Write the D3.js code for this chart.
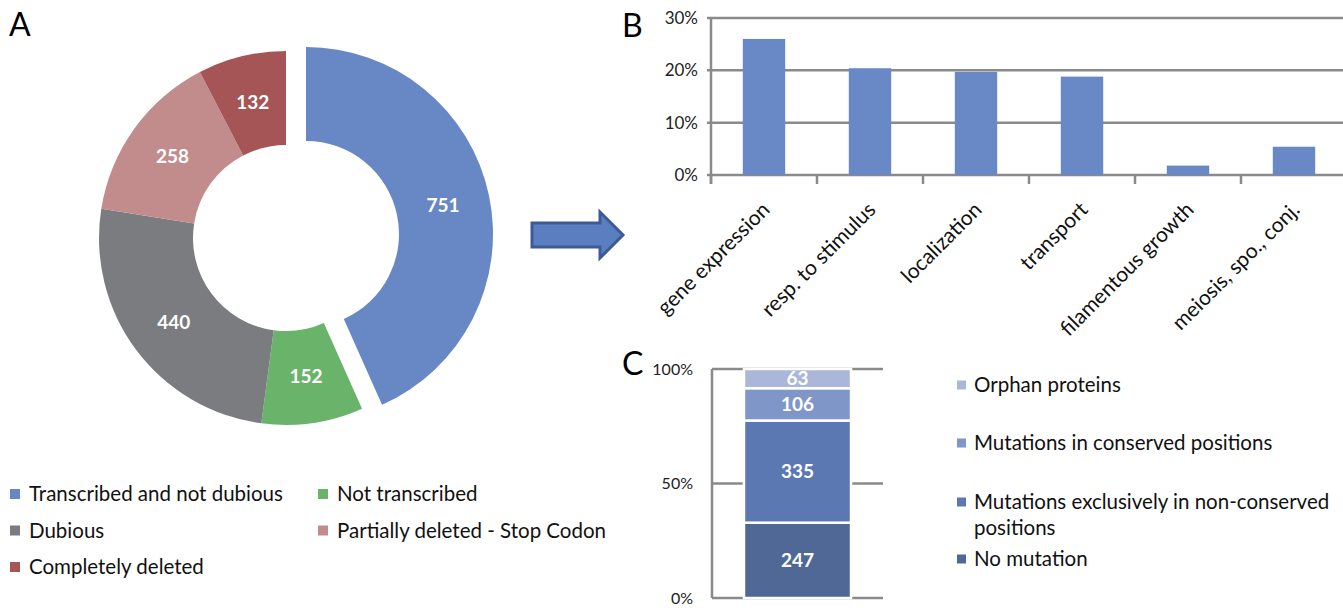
<!DOCTYPE html>
<html>
<head>
<meta charset="utf-8">
<script src="https://cdn.jsdelivr.net/npm/d3@7"></script>
<style>
  body { margin: 0; background: #fff; }
  svg { font-family: Lato, "Open Sans", sans-serif; }
  .panel-letter { font-size: 32px; fill: #000; }
  .legend text { font-size: 20.5px; fill: #111; }
  .tick-label { font-size: 17px; fill: #222; }
  .cat-label { font-size: 21px; fill: #111; }
  .val-label { font-size: 19px; font-weight: bold; fill: #fff; }
</style>
</head>
<body>
<div id="chart"></div>
<script>
// panel A - donut
var donutLabels = ["Transcribed and not dubious", "Not transcribed", "Dubious",
  "Partially deleted - Stop Codon", "Completely deleted"];
var donutValues = [751, 152, 440, 258, 132];
var donutColors = ["#6788c5", "#69b36b", "#7b7c80", "#c38c8c", "#a65556"];

// panel B - GO categories
var goCategories = ["gene expression", "resp. to stimulus", "localization",
  "transport", "filamentous growth", "meiosis, spo., conj."];
var goValues = [0.26, 0.204, 0.197, 0.188, 0.018, 0.054];
var goTicks = [0, 0.1, 0.2, 0.3];

// panel C - stacked bar (bottom to top)
var stackLabels = ["No mutation", "Mutations exclusively in non-conserved positions",
  "Mutations in conserved positions", "Orphan proteins"];
var stackValues = [247, 335, 106, 63];
var stackColors = ["#4f6896", "#5b78b2", "#7f96c8", "#aab7d8"];
var stackTicks = [0, 0.5, 1];

var width = 1343, height = 610;
var axisColor = "#8a8a8a";

var svg = d3.select("#chart").append("svg")
    .attr("width", width)
    .attr("height", height);

renderDonut();
renderArrow();
renderBars();
renderStack();

function renderDonut() {
    var cx = 286, cy = 238, outer = 187, inner = 93;
    var explode = [20, -4];

    svg.append("text").attr("class", "panel-letter")
        .attr("x", 9).attr("y", 36).text("A");

    var pie = d3.pie().sort(null).value(function (d) { return d; });
    var arc = d3.arc().innerRadius(inner).outerRadius(outer);
    var arcs = pie(donutValues);

    var g = svg.append("g").attr("transform", "translate(" + cx + "," + cy + ")");

    var slices = g.selectAll("g.slice").data(arcs).enter()
        .append("g")
        .attr("class", "slice")
        .attr("transform", function (d, i) {
            return i === 0 ? "translate(" + explode[0] + "," + explode[1] + ")" : null;
        });

    slices.append("path")
        .attr("d", arc)
        .attr("fill", function (d, i) { return donutColors[i]; });

    slices.append("text")
        .attr("class", "val-label")
        .attr("transform", function (d) { return "translate(" + arc.centroid(d) + ")"; })
        .attr("text-anchor", "middle")
        .attr("dy", "0.36em")
        .text(function (d) { return d.data; });

    // legend, two columns
    var legend = svg.append("g").attr("class", "legend");
    var item = legend.selectAll("g").data(donutLabels).enter()
        .append("g")
        .attr("transform", function (d, i) {
            return "translate(" + (i % 2 ? 318 : 10) + "," + (494 + Math.floor(i / 2) * 36.5) + ")";
        });
    item.append("rect")
        .attr("x", 0).attr("y", -5).attr("width", 10).attr("height", 10)
        .attr("fill", function (d, i) { return donutColors[i]; });
    item.append("text")
        .attr("x", 19).attr("dy", "0.36em")
        .text(function (d) { return d; });
}

function renderArrow() {
    var pts = [[532, 223], [600, 223], [600, 212], [623, 235], [600, 258], [600, 247], [532, 247]];
    svg.append("path")
        .attr("d", d3.line()(pts) + "Z")
        .attr("fill", "#5b7ec0")
        .attr("stroke", "#3e5a94")
        .attr("stroke-width", 3)
        .attr("stroke-linejoin", "miter");
}

function renderBars() {
    var x0 = 711, x1 = 1347, yTop = 18, yBottom = 175;

    svg.append("text").attr("class", "panel-letter")
        .attr("x", 622).attr("y", 37).text("B");

    var x = d3.scaleBand().domain(goCategories).range([x0, x1])
        .paddingInner(0.6).paddingOuter(0.3);
    var y = d3.scaleLinear().domain([0, 0.3]).range([yBottom, yTop]);

    var g = svg.append("g");

    // gridlines
    g.selectAll("line.grid").data(goTicks).enter()
        .append("line")
        .attr("x1", x0 - 4).attr("x2", width)
        .attr("y1", y).attr("y2", y)
        .attr("stroke", axisColor).attr("stroke-width", 2.5);

    // y axis line
    g.append("line")
        .attr("x1", x0).attr("x2", x0)
        .attr("y1", yTop).attr("y2", yBottom + 9)
        .attr("stroke", axisColor).attr("stroke-width", 2.5);

    // category boundary ticks
    var step = x.step();
    g.selectAll("line.xtick").data(goCategories).enter()
        .append("line")
        .attr("x1", function (d, i) { return x0 + i * step; })
        .attr("x2", function (d, i) { return x0 + i * step; })
        .attr("y1", yBottom).attr("y2", yBottom + 9)
        .attr("stroke", axisColor).attr("stroke-width", 2.5);

    g.selectAll("text.ytick").data(goTicks).enter()
        .append("text")
        .attr("class", "tick-label")
        .attr("x", x0 - 13).attr("y", y)
        .attr("dy", "0.36em")
        .attr("text-anchor", "end")
        .text(d3.format(".0%"));

    g.selectAll("rect.bar").data(goValues).enter()
        .append("rect")
        .attr("x", function (d, i) { return x(goCategories[i]); })
        .attr("width", x.bandwidth())
        .attr("y", y)
        .attr("height", function (d) { return yBottom - y(d); })
        .attr("fill", "#6889c6");

    g.selectAll("text.cat").data(goCategories).enter()
        .append("text")
        .attr("class", "cat-label")
        .attr("text-anchor", "end")
        .attr("transform", function (d) {
            return "translate(" + (x(d) + x.bandwidth() / 2 + 7) + "," + (yBottom + 36) + ") rotate(-45)";
        })
        .text(function (d) { return d; });
}

function renderStack() {
    var x0 = 712, x1 = 883, yTop = 369, yBottom = 598;
    var total = d3.sum(stackValues);

    svg.append("text").attr("class", "panel-letter")
        .attr("x", 622).attr("y", 375).text("C");

    var x = d3.scaleBand().domain(["all"]).range([x0, x1]).padding(0.23);
    var y = d3.scaleLinear().domain([0, 1]).range([yBottom, yTop]);

    var g = svg.append("g");

    g.selectAll("line.grid").data(stackTicks).enter()
        .append("line")
        .attr("x1", x0).attr("x2", x1)
        .attr("y1", y).attr("y2", y)
        .attr("stroke", axisColor).attr("stroke-width", 2.5);

    g.append("line")
        .attr("x1", x0).attr("x2", x0)
        .attr("y1", yTop).attr("y2", yBottom)
        .attr("stroke", axisColor).attr("stroke-width", 2.5);

    g.selectAll("text.ytick").data(stackTicks).enter()
        .append("text")
        .attr("class", "tick-label")
        .style("font-size", "16px")
        .attr("x", x0 - 19).attr("y", y)
        .attr("dy", "0.36em")
        .attr("text-anchor", "end")
        .text(d3.format(".0%"));

    var acc = 0;
    var segs = stackValues.map(function (v) {
        var s = {v: v, lo: acc / total, hi: (acc + v) / total};
        acc += v;
        return s;
    });

    g.selectAll("rect.seg").data(segs).enter()
        .append("rect")
        .attr("x", x("all"))
        .attr("width", x.bandwidth())
        .attr("y", function (d) { return y(d.hi); })
        .attr("height", function (d) { return y(d.lo) - y(d.hi); })
        .attr("fill", function (d, i) { return stackColors[i]; })
        .attr("stroke", "#fff").attr("stroke-width", 2.5);

    g.selectAll("text.seg").data(segs).enter()
        .append("text")
        .attr("class", "val-label")
        .attr("x", x("all") + x.bandwidth() / 2)
        .attr("y", function (d) { return y((d.lo + d.hi) / 2); })
        .attr("dy", "0.36em")
        .attr("text-anchor", "middle")
        .text(function (d) { return d.v; });

    // legend, top item first
    var rows = [
        {i: 3, y: 385, lines: ["Orphan proteins"]},
        {i: 2, y: 443, lines: ["Mutations in conserved positions"]},
        {i: 1, y: 502, lines: ["Mutations exclusively in non-conserved", "positions"]},
        {i: 0, y: 559, lines: ["No mutation"]}
    ];
    var legend = svg.append("g").attr("class", "legend");
    var item = legend.selectAll("g").data(rows).enter()
        .append("g")
        .attr("transform", function (d) { return "translate(957," + d.y + ")"; });
    item.append("rect")
        .attr("x", 0).attr("y", -4.5).attr("width", 9).attr("height", 9)
        .attr("fill", function (d) { return stackColors[d.i]; });
    item.append("text")
        .attr("x", 17).attr("dy", "0.36em")
        .selectAll("tspan").data(function (d) { return d.lines; }).enter()
        .append("tspan")
        .attr("x", 17)
        .attr("dy", function (d, k) { return k ? 26 : null; })
        .text(function (d) { return d; });
}
</script>
</body>
</html>
